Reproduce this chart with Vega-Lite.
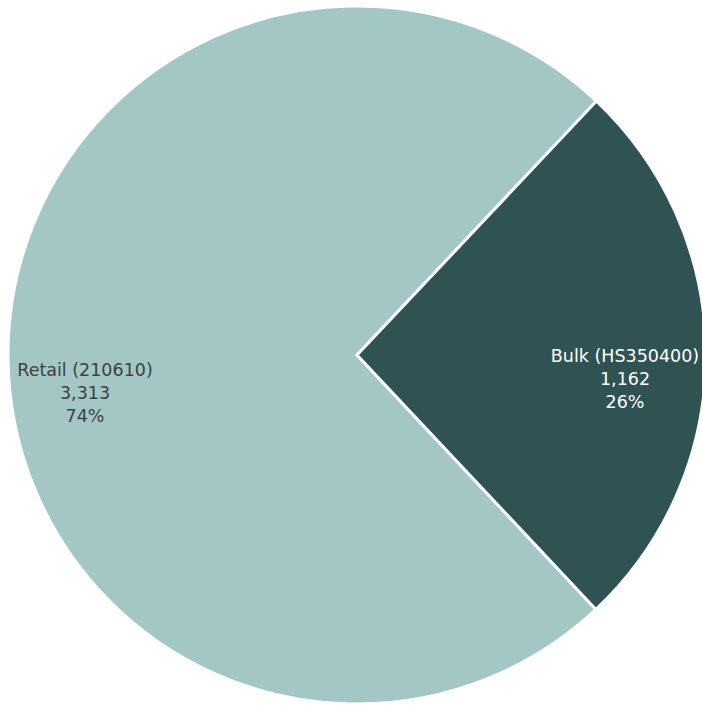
{
  "$schema": "https://vega.github.io/schema/vega-lite/v6.json",
  "width": 714,
  "height": 710,
  "padding": 0,
  "autosize": {"type": "none"},
  "background": "white",
  "view": {"stroke": null},
  "data": {"values": [
    {"category": "Retail (210610)", "value": 3313, "pct": "74%", "order": 1, "label": ["Retail (210610)", "3,313", "74%"]},
    {"category": "Bulk (HS350400)", "value": 1162, "pct": "26%", "order": 2, "label": ["Bulk (HS350400)", "1,162", "26%"]}
  ]},
  "encoding": {
    "theta": {"field": "value", "type": "quantitative", "stack": true, "scale": {"range": [2.3876, 8.6708]}},
    "order": {"field": "order", "type": "quantitative"}
  },
  "layer": [
    {
      "mark": {"type": "arc", "outerRadius": 349, "stroke": "white", "strokeWidth": 3},
      "encoding": {
        "color": {"field": "category", "type": "nominal", "legend": null,
          "scale": {"domain": ["Retail (210610)", "Bulk (HS350400)"], "range": ["#A3C7C4", "#2F5352"]}}
      }
    },
    {
      "mark": {"type": "text", "radius": 272, "dy": 16, "font": "DejaVu Sans", "fontSize": 17.5, "lineHeight": 23, "align": "center", "baseline": "middle", "color": "#404040"},
      "encoding": {"text": {"condition": {"test": "datum.order == 1", "field": "label"}, "value": ""}}
    },
    {
      "mark": {"type": "text", "radius": 268, "dy": 2, "font": "DejaVu Sans", "fontSize": 17.5, "lineHeight": 23, "align": "center", "baseline": "middle", "color": "white"},
      "encoding": {"text": {"condition": {"test": "datum.order == 2", "field": "label"}, "value": ""}}
    }
  ]
}
